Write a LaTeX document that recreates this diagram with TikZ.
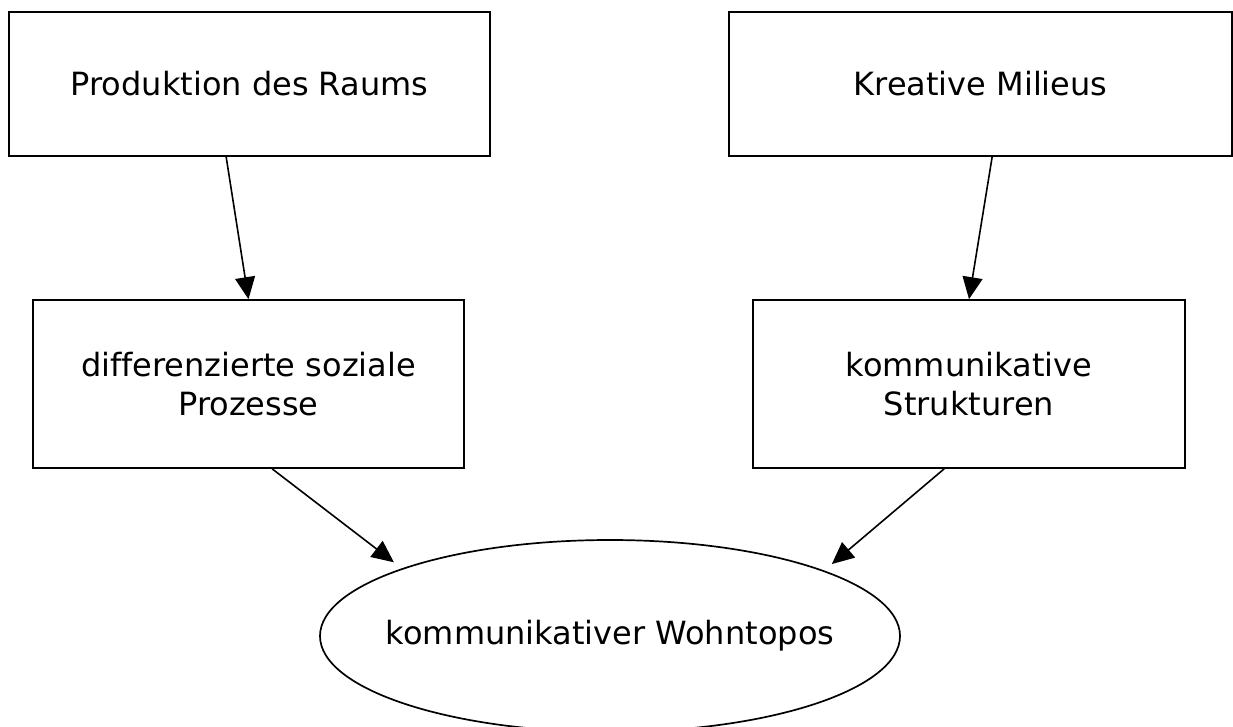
\documentclass[tikz,border=0pt]{standalone}
\usepackage{fontspec}
\setmainfont[Ligatures=NoCommon]{DejaVu Sans}
\usetikzlibrary{arrows.meta,shapes.geometric}
\begin{document}
\begin{tikzpicture}[x=1pt,y=-1pt,
  every node/.style={font=\fontsize{32}{39}\selectfont},
  box/.style={draw,line width=1.7pt,rectangle,inner sep=0pt,align=center,minimum height=144pt},
  lowbox/.style={box,minimum height=168pt},
  conn/.style={line width=1.6pt,-{Triangle[length=22pt,width=20pt]}}]
\useasboundingbox (0,0) rectangle (1233,727);
\begin{scope}
\clip (0,0) rectangle (1233,727);
\node[box,minimum width=481pt] (b1) at (249.5,84) {Produktion des Raums};
\node[box,minimum width=503pt] (b2) at (980.5,84) {Kreative Milieus};
\node[lowbox,minimum width=431pt] (b3) at (248.5,384) {differenzierte soziale\\Prozesse};
\node[lowbox,minimum width=432pt] (b4) at (969,384) {kommunikative\\Strukturen};
\node[draw,line width=1.7pt,ellipse,inner sep=0pt,minimum width=580pt,minimum height=192pt] (e) at (610,636) {\makebox[0pt]{kommunikativer Wohntopos}};
\draw[conn] ([xshift=218pt]b1.south west) -- (b3.north);
\draw[conn] ([xshift=264pt]b2.south west) -- (b4.north);
\draw[conn,shorten >=10pt] ([xshift=240pt]b3.south west) -- (e.162.2);
\draw[conn,shorten >=10pt] ([xshift=192pt]b4.south west) -- (e.17.8);
\end{scope}
\end{tikzpicture}
\end{document}
